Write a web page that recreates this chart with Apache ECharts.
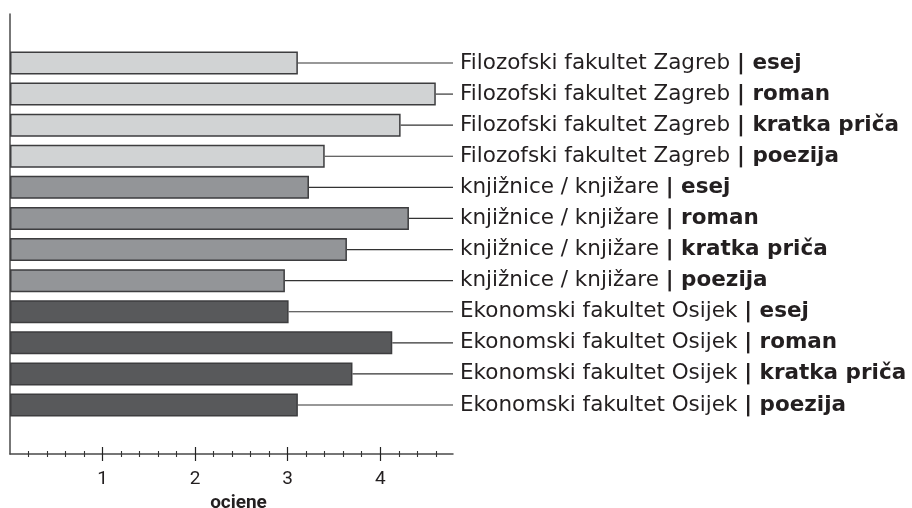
<!DOCTYPE html>
<html>
<head>
<meta charset="utf-8">
<script src="https://cdn.jsdelivr.net/npm/echarts@6/dist/echarts.min.js"></script>
<style>
html,body{margin:0;padding:0;background:#fff;}
#chart{width:912px;height:508px;}
</style>
</head>
<body>
<div id="chart"></div>
<script>
// ---- data ----
const groups = ['Filozofski fakultet Zagreb', 'knjižnice / knjižare', 'Ekonomski fakultet Osijek'];
const genres = ['esej', 'roman', 'kratka priča', 'poezija'];
const zagrebValues = [3.11, 4.60, 4.22, 3.40];
const knjizniceValues = [3.23, 4.31, 3.64, 2.97];
const osijekValues = [3.01, 4.13, 3.70, 3.11];
const majorTicks = [1, 2, 3, 4];
const minorTicks = [0.2, 0.4, 0.6, 0.8, 1.2, 1.4, 1.6, 1.8, 2.2, 2.4, 2.6, 2.8, 3.2, 3.4, 3.6, 3.8, 4.2, 4.4, 4.6];
const axisName = 'ocjene';
const groupColors = ['#d1d3d4', '#939598', '#58595b'];

// ---- build ----
const categories = [];
const values = [];
const colorIdx = [];
[zagrebValues, knjizniceValues, osijekValues].forEach((arr, g) => {
  arr.forEach((v, k) => {
    categories.push(groups[g] + ' | ' + genres[k]);
    values.push(v);
    colorIdx.push(g);
  });
});

const xMin = 0, xMax = 4.786;
const labelFont = '"DejaVu Sans", "Noto Sans", sans-serif';
const tickFont = '"Liberation Sans Narrow", "Roboto", sans-serif';

function hiddenX(extra) {
  return Object.assign({
    type: 'value', min: xMin, max: xMax, position: 'bottom',
    axisLine: {show: false}, axisLabel: {show: false}, splitLine: {show: false},
    axisTick: {show: false}
  }, extra);
}

const chart = echarts.init(document.getElementById('chart'), null, {renderer: 'canvas'});
chart.setOption({
  animation: false,
  grid: [
    {left: 10, right: 459, top: 14, bottom: 54, outerBoundsMode: 'none'},
    {left: 10, right: 459, top: 47.45, height: 373.1, outerBoundsMode: 'none'}
  ],
  xAxis: [
    hiddenX({
      gridIndex: 0,
      axisLine: {show: true, lineStyle: {color: '#4a4a4a', width: 1.5}},
      axisTick: {show: true, customValues: majorTicks, inside: false, length: 7, lineStyle: {color: '#222', width: 1.2}},
      axisLabel: {show: true, customValues: majorTicks, margin: 16, color: '#231f20', fontSize: 19, fontFamily: tickFont},
      name: axisName, nameLocation: 'middle', nameGap: 35,
      nameTextStyle: {fontFamily: '"Roboto", sans-serif', fontWeight: 'bold', fontSize: 19, color: '#231f20', padding: [0, 0, 0, 14]}
    }),
    hiddenX({gridIndex: 0, axisTick: {show: true, customValues: majorTicks, inside: true, length: 7, lineStyle: {color: '#222', width: 1.2}}}),
    hiddenX({gridIndex: 0, axisTick: {show: true, customValues: minorTicks, inside: false, length: 3, lineStyle: {color: '#333', width: 1.1}}}),
    hiddenX({gridIndex: 0, axisTick: {show: true, customValues: minorTicks, inside: true, length: 3, lineStyle: {color: '#333', width: 1.1}}}),
    hiddenX({gridIndex: 1})
  ],
  yAxis: [
    {gridIndex: 0, type: 'value', min: 0, max: 1, position: 'left',
     axisLine: {show: true, lineStyle: {color: '#4a4a4a', width: 1.5}},
     axisTick: {show: false}, axisLabel: {show: false}, splitLine: {show: false}},
    {gridIndex: 1, type: 'category', data: categories, inverse: true, position: 'right',
     axisLine: {show: false}, axisTick: {show: false}, splitLine: {show: false},
     axisLabel: {
       margin: 7, align: 'left',
       formatter: function (val) {
         const parts = val.split(' | ');
         return '{n|' + parts[0] + ' }{b|| ' + parts[1] + '}';
       },
       rich: {
         n: {fontFamily: labelFont, fontSize: 21.5, color: '#231f20'},
         b: {fontFamily: labelFont, fontSize: 21.5, fontWeight: 'bold', color: '#231f20'}
       }
     }}
  ],
  series: [
    {
      type: 'custom', xAxisIndex: 4, yAxisIndex: 1,
      data: values.map((v, i) => [v, i]),
      encode: {x: 0, y: 1},
      renderItem: function (params, api) {
        const s = api.coord([api.value(0), api.value(1)]);
        const e = api.coord([xMax, api.value(1)]);
        return {type: 'line', shape: {x1: s[0], y1: s[1], x2: e[0], y2: e[1]},
                style: {stroke: '#333', lineWidth: 1.2}};
      },
      z: 1
    },
    {
      type: 'bar', xAxisIndex: 4, yAxisIndex: 1,
      data: values, barWidth: 23,
      itemStyle: {
        color: function (p) { return groupColors[colorIdx[p.dataIndex]]; },
        borderColor: '#3d3d3f', borderWidth: 1.5
      },
      z: 2
    }
  ]
});
</script>
</body>
</html>
